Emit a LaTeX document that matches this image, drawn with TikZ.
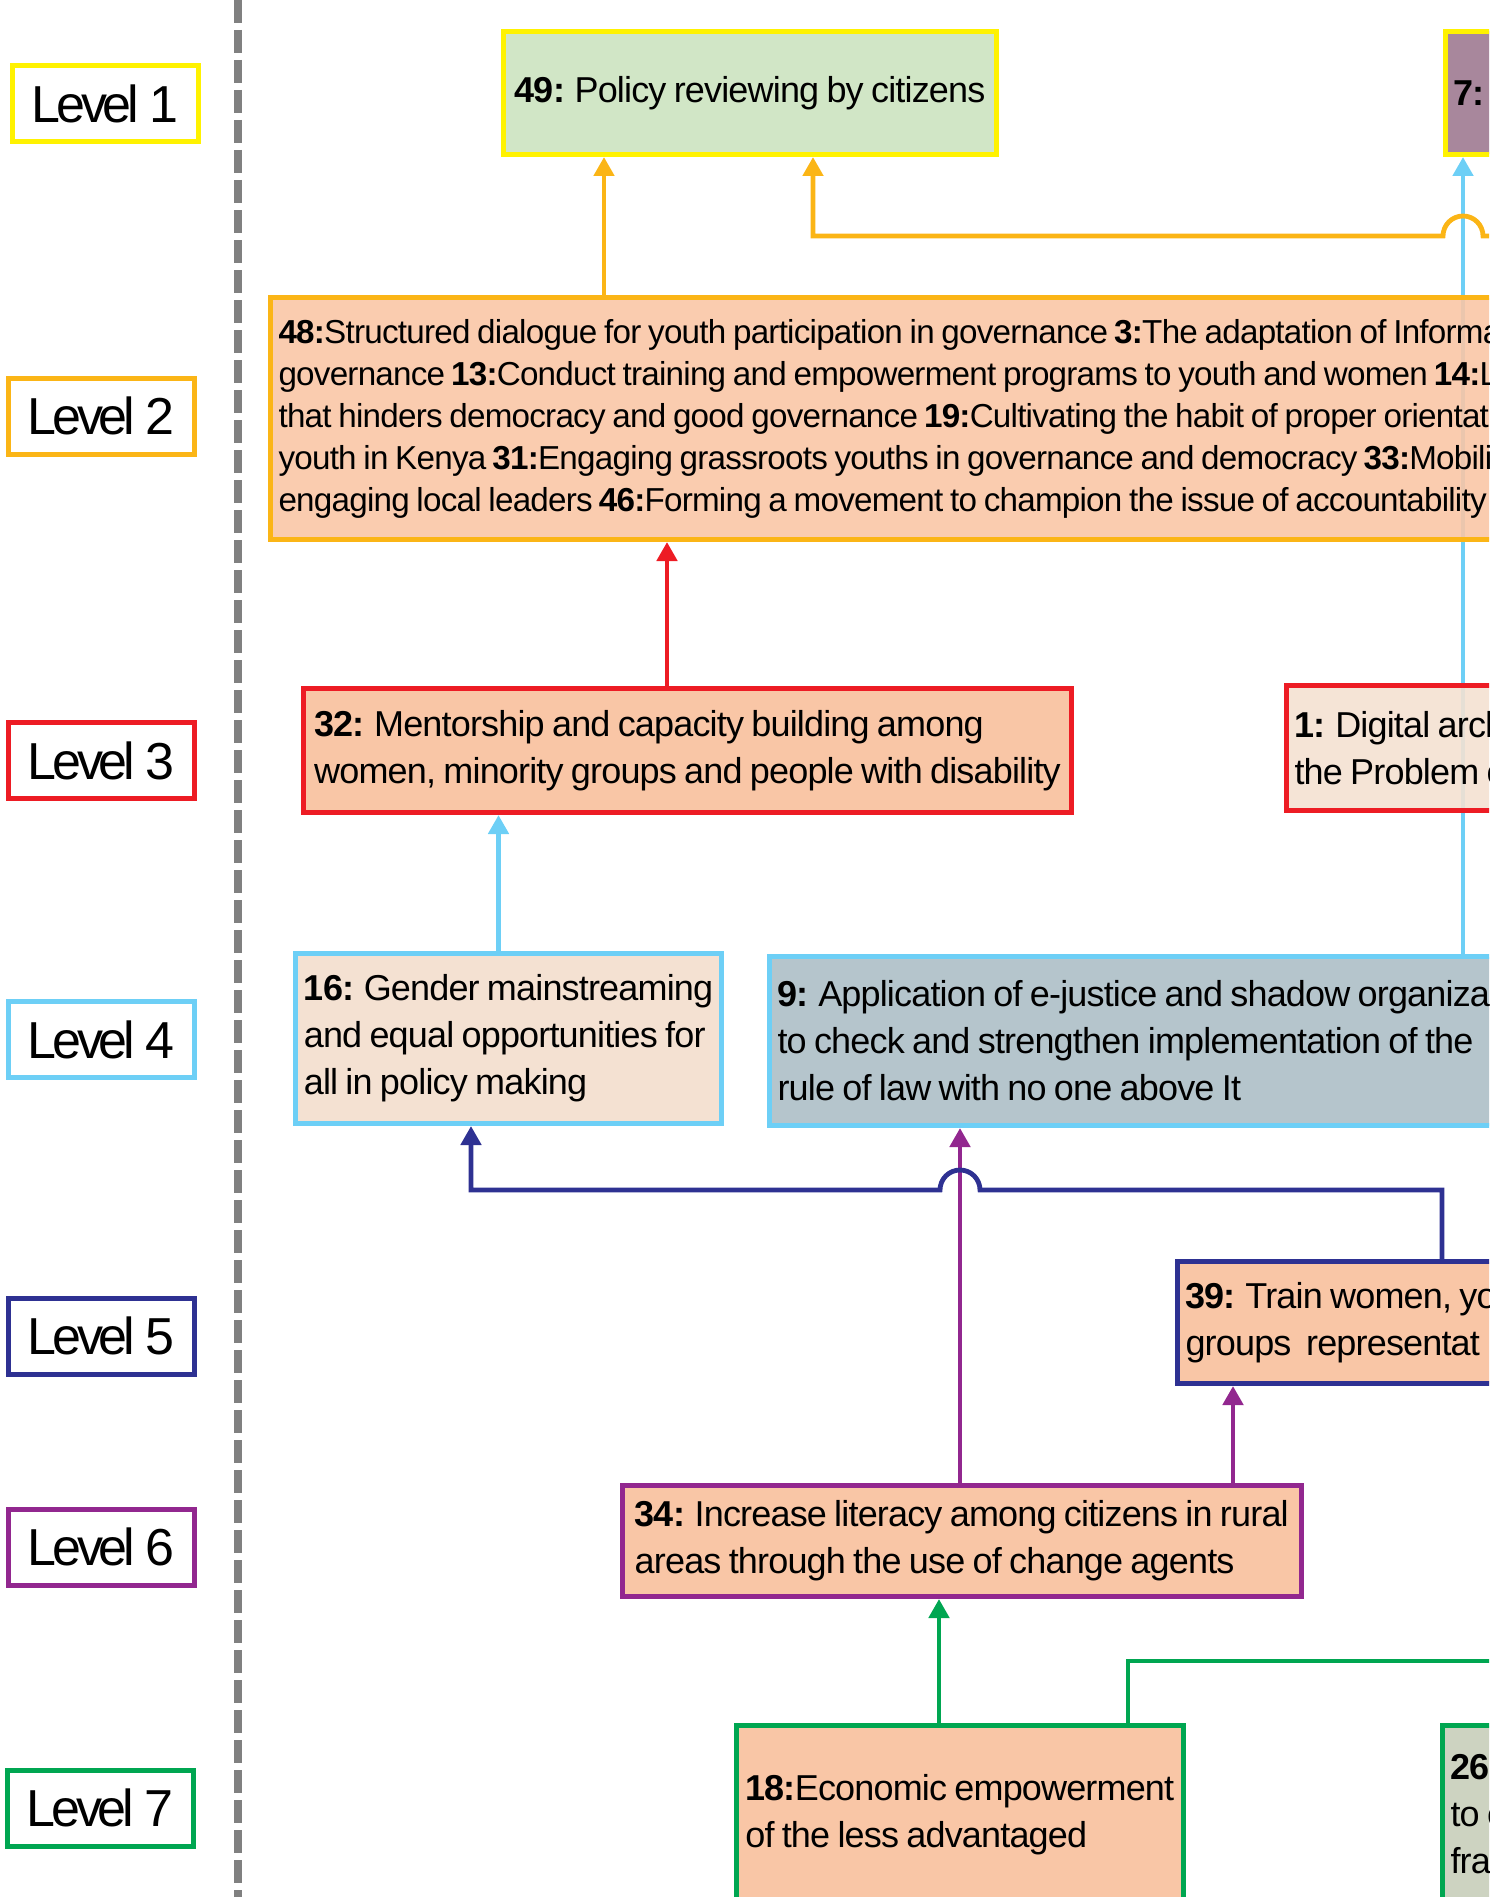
\documentclass[tikz,border=0pt]{standalone}
\usepackage{fontspec}
\setmainfont{Liberation Sans}[LetterSpace=-2.3, WordSpace=0.8]
\newfontfamily\levelfont{Liberation Sans}[LetterSpace=-8]
\usetikzlibrary{arrows.meta, positioning, calc, backgrounds}

\definecolor{cyellow}{HTML}{FFF200}
\definecolor{corange}{HTML}{FBB516}
\definecolor{cred}{HTML}{ED1C24}
\definecolor{clblue}{HTML}{6DCFF6}
\definecolor{cdblue}{HTML}{2E3192}
\definecolor{cpurple}{HTML}{92278F}
\definecolor{cgreen}{HTML}{00A651}
\definecolor{peach}{HTML}{F9C6A6}
\definecolor{lightpeach}{HTML}{F4E1D2}
\definecolor{sage}{HTML}{D1E6C6}
\definecolor{mauve}{HTML}{A8879C}
\definecolor{steel}{HTML}{B5C5CC}
\definecolor{greige}{HTML}{CDD3C1}
\definecolor{divider}{HTML}{808080}

\newcommand{\idx}[1]{\textbf{#1:}}

\tikzset{
  lvlbox/.style={draw=#1, line width=5pt, fill=white, minimum width=186pt, minimum height=76pt,
    inner sep=0pt, font=\levelfont\fontsize{52}{52}\selectfont},
  card/.style={draw=#1, line width=5pt, inner xsep=8pt, inner ysep=0pt, outer sep=0pt, align=flush left,
    anchor=north west, font=\fontsize{36}{47}\selectfont},
  wire/.style={draw=#1, line width=4.8pt},
  link/.style={wire=#1, -{Triangle[length=19pt,width=20pt]}, shorten >=2.5pt}
}

\begin{document}
\begin{tikzpicture}[x=1pt, y=-1pt]
  \useasboundingbox (0,0) rectangle (1500,1897);
  \begin{scope}
  \clip (0,0) rectangle (1489,1897);

  % Level column
  \draw[divider, line width=8pt, dash pattern=on 23pt off 7pt] (238,0) -- (238,1897);
  \node[lvlbox=cyellow] (lvl1) at (105,104) {Level 1};
  \node[lvlbox=corange] (lvl2) at (101,416) {Level 2};
  \node[lvlbox=cred] (lvl3) at (101,760.5) {Level 3};
  \node[lvlbox=clblue] (lvl4) at (101,1039.5) {Level 4};
  \node[lvlbox=cdblue] (lvl5) at (101,1336) {Level 5};
  \node[lvlbox=cpurple] (lvl6) at (101,1547) {Level 6};
  \node[lvlbox=cgreen] (lvl7) at (100,1808) {Level 7};

  % Level 1
  \node[card=cyellow, fill=sage, minimum width=493pt, minimum height=123pt] (b49) at (503.5,31.5)
    {\idx{49} Policy reviewing by citizens};
  \node[card=cyellow, fill=mauve, text width=200pt, minimum height=123pt] (b7) at (1445.5,31.5)
    {\idx{7}};

  % Level 2
  \node[card=corange, fill=peach, fill opacity=0.9, text opacity=1, text width=1400pt, minimum height=242pt,
    font=\fontsize{33.2}{42}\selectfont] (b48) at (270.5,297.5)
    {\idx{48}Structured dialogue for youth participation in governance \idx{3}The adaptation of Informa\\
     governance \idx{13}Conduct training and empowerment programs to youth and women \idx{14}Lo\\
     that hinders democracy and good governance \idx{19}Cultivating the habit of proper orientati\\
     youth in Kenya \idx{31}Engaging grassroots youths in governance and democracy \idx{33}Mobilisi\\
     engaging local leaders \idx{46}Forming a movement to champion the issue of accountability};

  % Level 3
  \node[card=cred, fill=peach, minimum width=768pt, minimum height=124pt] (b32) at (303.5,688.5)
    {\idx{32} Mentorship and capacity building among\\women, minority groups and people with disability};
  \node[card=cred, fill=lightpeach, fill opacity=0.9, text opacity=1, text width=300pt, minimum height=125pt] (b1) at (1286.5,685.5)
    {\idx{1} Digital arch\\the Problem o};

  % Level 4
  \node[card=clblue, fill=lightpeach, minimum width=426pt, minimum height=170pt] (b16) at (295.5,953.5)
    {\idx{16} Gender mainstreaming\\and equal opportunities for\\all in policy making};
  \node[card=clblue, fill=steel, text width=800pt, minimum height=169pt] (b9) at (769.5,956.5)
    {\idx{9} Application of e-justice and shadow organiza\\to check and strengthen implementation of the\\rule of law with no one above It};

  % Level 5
  \node[card=cdblue, fill=peach, text width=400pt, minimum height=122pt] (b39) at (1177.5,1261.5)
    {\idx{39} Train women, yo\\groups~ representat};

  % Level 6
  \node[card=cpurple, fill=peach, minimum width=678.5pt, minimum height=111pt] (b34) at (622.5,1485.5)
    {\idx{34} Increase literacy among citizens in rural\\areas through the use of change agents};

  % Level 7
  \node[card=cgreen, fill=peach, minimum width=447.5pt, minimum height=178pt] (b18) at (736,1725.5)
    {\idx{18}Economic empowerment\\of the less advantaged};
  \node[card=cgreen, fill=greige, text width=300pt, minimum height=178pt] (b26) at (1442.5,1725.5)
    {\idx{26}\\to c\\fra};

  % Connector columns
  \coordinate (xa) at (604,0);
  \coordinate (xb) at (813,0);
  \coordinate (xc) at (1463,0);
  \coordinate (xd) at (667,0);
  \coordinate (xe) at (498.5,0);
  \coordinate (xf) at (471,0);
  \coordinate (xg) at (1442,0);
  \coordinate (xh) at (960,0);
  \coordinate (xi) at (1233,0);
  \coordinate (xj) at (939,0);
  \coordinate (xk) at (1128,0);
  \coordinate (oin) at (1500,236);
  \coordinate (ybl) at (0,1190);
  \coordinate (gout) at (1500,1661);

  % Edges
  \begin{scope}[on background layer]
    \draw[link=clblue] (xc |- b9.north) -- (xc |- b7.south);
  \end{scope}
  \draw[link=corange] (xa |- b48.north) -- (xa |- b49.south);
  \draw[link=corange] (oin) -- ($(xc |- oin)+(20,0)$) arc[start angle=0, end angle=180, radius=20pt]
    -- (xb |- oin) -- (xb |- b49.south);
  \draw[link=cred] (xd |- b32.north) -- (xd |- b48.south);
  \draw[link=clblue] (xe |- b16.north) -- (xe |- b32.south);
  \draw[link=cpurple] (xh |- b34.north) -- (xh |- b9.south);
  \draw[link=cdblue] (xg |- b39.north) -- (xg |- ybl) -- ($(xh |- ybl)+(20,0)$)
    arc[start angle=0, end angle=180, radius=20pt] -- (xf |- ybl) -- (xf |- b16.south);
  \draw[link=cpurple] (xi |- b34.north) -- (xi |- b39.south);
  \draw[link=cgreen] (xj |- b18.north) -- (xj |- b34.south);
  \draw[wire=cgreen] (xk |- b18.north) -- (xk |- gout) -- (gout);
  \end{scope}
\end{tikzpicture}
\end{document}
